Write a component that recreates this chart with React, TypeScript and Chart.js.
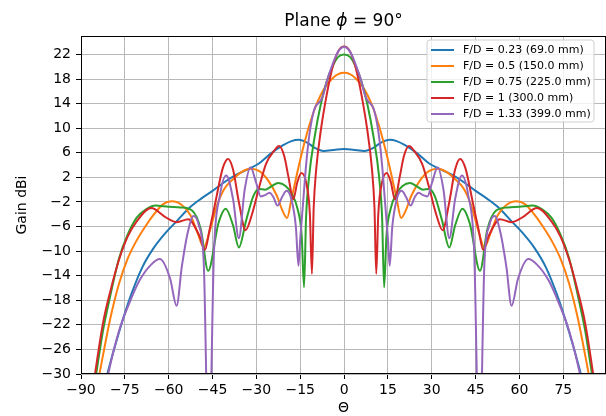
import React, { useEffect, useRef } from "react";
import { Chart, registerables } from "chart.js";

Chart.register(...registerables);

// ---------------- data ----------------
const seriesLabels = [
  "F/D = 0.23 (69.0 mm)",
  "F/D = 0.5 (150.0 mm)",
  "F/D = 0.75 (225.0 mm)",
  "F/D = 1 (300.0 mm)",
  "F/D = 1.33 (399.0 mm)",
];
const seriesColors = ["#1f77b4", "#ff7f0e", "#2ca02c", "#d62728", "#9467bd"];

const xTickValues = [-90, -75, -60, -45, -30, -15, 0, 15, 30, 45, 60, 75];
const yTickValues = [-30, -26, -22, -18, -14, -10, -6, -2, 2, 6, 10, 14, 18, 22];

// F/D = 0.23
const thetaBlue = [
  -85, -81, -77, -73, -69, -65, -61, -57, -53, -49, -45, -41, -37, -33, -29, -25, -21, -18, -15.5, -12.5, -10, -7, -3,
  0,
  3, 7, 10, 12.5, 15.5, 18, 21, 25, 29, 33, 37, 41, 45, 49, 53, 57, 61, 65, 69, 73, 77, 81, 85,
];
const gainBlue = [
  -38, -30, -23.2, -17.3, -12.6, -9.4, -7.0, -5.0, -3.0, -1.5, -0.2, 1.2, 2.4, 3.3, 4.3, 5.9, 7.2, 7.9, 8.1, 7.6, 6.8, 6.3, 6.5,
  6.6,
  6.5, 6.3, 6.8, 7.6, 8.1, 7.9, 7.2, 5.9, 4.3, 3.3, 2.4, 1.2, -0.2, -1.5, -3.0, -5.0, -7.0, -9.4, -12.6, -17.3, -23.2, -30, -38,
];

// F/D = 0.5
const thetaOrange = [
  -87, -83.7, -80, -77, -74, -71, -68, -65, -62, -59, -55.5, -52.5, -50, -48, -46, -43.5, -41, -38, -35, -32, -29, -26, -23, -21, -19.5, -18, -16, -14, -12, -10, -8, -6, -4, -2,
  0,
  2, 4, 6, 8, 10, 12, 14, 16, 18, 19.5, 21, 23, 26, 29, 32, 35, 38, 41, 43.5, 46, 48, 50, 52.5, 55.5, 59, 62, 65, 68, 71, 74, 77, 80, 83.7, 87,
];
const gainOrange = [
  -38, -30, -21.0, -15.3, -11.2, -8.3, -6.0, -4.0, -2.4, -1.9, -2.5, -4.2, -7.2, -9.4, -6.8, -2.6, 0.1, 1.7, 2.9, 3.4, 3.0, 1.5, -1.0, -3.5, -4.6, -1.5, 2.8, 6.8, 10.3, 13.2, 15.4, 17.0, 18.1, 18.8,
  19.0,
  18.8, 18.1, 17.0, 15.4, 13.2, 10.3, 6.8, 2.8, -1.5, -4.6, -3.5, -1.0, 1.5, 3.0, 3.4, 2.9, 1.7, 0.1, -2.6, -6.8, -9.4, -7.2, -4.2, -2.5, -1.9, -2.4, -4.0, -6.0, -8.3, -11.2, -15.3, -21.0, -30, -38,
];

// F/D = 0.75
const thetaGreen = [
  -87.5, -84.8, -82.5, -80, -77, -74, -71, -68, -64.5, -60, -56, -52, -49, -46.5, -43, -40.5, -38, -36, -33.5, -31, -29, -27, -25, -22.5, -20, -18, -16, -14.5, -13.7, -13, -12, -10, -8, -6, -4, -2,
  0,
  2, 4, 6, 8, 10, 12, 13, 13.7, 14.5, 16, 18, 20, 22.5, 25, 27, 29, 31, 33.5, 36, 38, 40.5, 43, 46.5, 49, 52, 56, 60, 64.5, 68, 71, 74, 77, 80, 82.5, 84.8, 87.5,
];
const gainGreen = [
  -38, -30, -23.0, -17.3, -11.2, -7.3, -4.6, -3.3, -2.6, -2.8, -2.9, -3.4, -6.5, -13.2, -5.5, -3.1, -5.8, -9.4, -5.0, -1.0, 0.1, 0.0, 0.5, 1.1, 0.6, -0.6, -3.0, -7.5, -15.9, -4.5, 2.0, 8.8, 13.8, 17.5, 20.0, 21.6,
  22.0,
  21.6, 20.0, 17.5, 13.8, 8.8, 2.0, -4.5, -15.9, -7.5, -3.0, -0.6, 0.6, 1.1, 0.5, 0.0, 0.1, -1.0, -5.0, -9.4, -5.8, -3.1, -5.5, -13.2, -6.5, -3.4, -2.9, -2.8, -2.6, -3.3, -4.6, -7.3, -11.2, -17.3, -23.0, -30, -38,
];

// F/D = 1
const thetaRed = [
  -87.5, -85.2, -82.5, -80, -77, -74, -71, -66, -61, -57.2, -53.3, -49.5, -47.6, -46, -44, -41.5, -39.7, -38, -36, -33.7, -31.5, -29, -26.7, -24, -22.2, -20.5, -19, -17.4, -16, -14.6, -13, -11.7, -11, -10.4, -9.5, -8, -6, -4, -2,
  0,
  2, 4, 6, 8, 9.5, 10.4, 11, 11.7, 13, 14.6, 16, 17.4, 19, 20.5, 22.2, 24, 26.7, 29, 31.5, 33.7, 36, 38, 39.7, 41.5, 44, 46, 47.6, 49.5, 53.3, 57.2, 61, 66, 71, 74, 77, 80, 82.5, 85.2, 87.5,
];
const gainRed = [
  -38, -30, -21.8, -16.6, -11.4, -7.6, -5.2, -3.0, -4.5, -5.3, -4.8, -7.5, -9.8, -6.5, -2.0, 3.5, 5.0, 3.3, -2.0, -6.6, -4.0, 0.5, 4.2, 6.3, 7.1, 5.5, 2.0, -1.6, 1.2, 2.7, 1.2, -4.0, -13.7, -3.0, 3.5, 9.5, 15.3, 19.8, 22.5,
  23.3,
  22.5, 19.8, 15.3, 9.5, 3.5, -3.0, -13.7, -4.0, 1.2, 2.7, 1.2, -1.6, 2.0, 5.5, 7.1, 6.3, 4.2, 0.5, -4.0, -6.6, -2.0, 3.3, 5.0, 3.5, -2.0, -6.5, -9.8, -7.5, -4.8, -5.3, -4.5, -3.0, -5.2, -7.6, -11.4, -16.6, -21.8, -30, -38,
];

// F/D = 1.33
const thetaPurple = [
  -84, -80.7, -77, -73.5, -70, -66, -63, -59.5, -57.3, -55.5, -53.5, -51.5, -49.7, -48, -46.3, -44.5, -42.5, -40.3, -38, -36, -34, -32, -30, -28.5, -27, -25.5, -24.2, -22.8, -21.2, -19.7, -18, -16.5, -15.6, -15, -14, -13, -12, -11, -10, -9, -8, -7, -6, -4, -2,
  0,
  2, 4, 6, 7, 8, 9, 10, 11, 12, 13, 14, 15, 15.6, 16.5, 18, 19.7, 21.2, 22.8, 24.2, 25.5, 27, 28.5, 30, 32, 34, 36, 38, 40.3, 42.5, 44.5, 46.3, 48, 49.7, 51.5, 53.5, 55.5, 57.3, 59.5, 63, 66, 70, 73.5, 77, 80.7, 84,
];
const gainPurple = [
  -38, -30, -23.0, -18.5, -14.8, -12.2, -11.3, -14.5, -18.9, -12.5, -7.0, -4.3, -5.8, -12.0, -45, -10.0, -1.0, 2.3, -1.5, -7.9, 0.0, 3.6, 1.0, -1.1, -0.9, -0.5, -1.2, -2.6, -1.2, -0.2, -1.6, -6.0, -12.4, -8.0, -2.0, 4.0, 8.5, 11.5, 13.3, 14.0, 14.5, 15.6, 17.5, 20.3, 22.5,
  23.2,
  22.5, 20.3, 17.5, 15.6, 14.5, 14.0, 13.3, 11.5, 8.5, 4.0, -2.0, -8.0, -12.4, -6.0, -1.6, -0.2, -1.2, -2.6, -1.2, -0.5, -0.9, -1.1, 1.0, 3.6, 0.0, -7.9, -1.5, 2.3, -1.0, -10.0, -45, -12.0, -5.8, -4.3, -7.0, -12.5, -18.9, -14.5, -11.3, -12.2, -14.8, -18.5, -23.0, -30, -38,
];

const seriesTheta = [thetaBlue, thetaOrange, thetaGreen, thetaRed, thetaPurple];
const seriesGain = [gainBlue, gainOrange, gainGreen, gainRed, gainPurple];

// ---------------- styling ----------------
const FONT = '"DejaVu Sans", "Liberation Sans", sans-serif';
const minusFmt = (v: number | string) => String(v).replace("-", "\u2212");

const decorPlugin = {
  id: "decor",
  afterDraw(chart: any) {
    const { ctx, chartArea } = chart;
    const { left, right, top, bottom } = chartArea;
    ctx.save();
    // frame (spines)
    ctx.strokeStyle = "#000";
    ctx.lineWidth = 1;
    ctx.strokeRect(left + 0.5, top + 0.5, right - left - 1, bottom - top - 1);

    // title with italic phi
    ctx.fillStyle = "#000";
    ctx.textBaseline = "alphabetic";
    const normal = `17px ${FONT}`;
    const italic = `italic 17px ${FONT}`;
    const p1 = "Plane ";
    const p2 = "\u03D5";
    const p3 = " = 90\u00B0";
    ctx.font = normal;
    const w1 = ctx.measureText(p1).width;
    const w3 = ctx.measureText(p3).width;
    ctx.font = italic;
    const w2 = ctx.measureText(p2).width;
    const total = w1 + w2 + w3;
    let x = (left + right) / 2 - total / 2;
    const by = 26;
    ctx.font = normal;
    ctx.fillText(p1, x, by);
    x += w1;
    ctx.font = italic;
    ctx.fillText(p2, x, by);
    x += w2;
    ctx.font = normal;
    ctx.fillText(p3, x, by);

    // axis titles
    ctx.font = `14px ${FONT}`;
    ctx.textAlign = "center";
    ctx.textBaseline = "middle";
    ctx.fillText("\u0398", (left + right) / 2, 408);
    ctx.save();
    ctx.translate(22, (top + bottom) / 2);
    ctx.rotate(-Math.PI / 2);
    ctx.fillText("Gain dBi", 0, 0);
    ctx.restore();

    // legend
    const bx = 427, byy = 40, bw = 167, bh = 82, r = 3;
    ctx.beginPath();
    ctx.moveTo(bx + r, byy);
    ctx.lineTo(bx + bw - r, byy);
    ctx.quadraticCurveTo(bx + bw, byy, bx + bw, byy + r);
    ctx.lineTo(bx + bw, byy + bh - r);
    ctx.quadraticCurveTo(bx + bw, byy + bh, bx + bw - r, byy + bh);
    ctx.lineTo(bx + r, byy + bh);
    ctx.quadraticCurveTo(bx, byy + bh, bx, byy + bh - r);
    ctx.lineTo(bx, byy + r);
    ctx.quadraticCurveTo(bx, byy, bx + r, byy);
    ctx.closePath();
    ctx.fillStyle = "rgba(255,255,255,0.8)";
    ctx.fill();
    ctx.strokeStyle = "#d0d0d0";
    ctx.lineWidth = 1;
    ctx.stroke();
    ctx.font = `11px ${FONT}`;
    ctx.textAlign = "left";
    ctx.textBaseline = "middle";
    seriesLabels.forEach((lab, i) => {
      const ry = 50 + i * 16;
      ctx.strokeStyle = seriesColors[i];
      ctx.lineWidth = 2;
      ctx.beginPath();
      ctx.moveTo(431, ry);
      ctx.lineTo(454, ry);
      ctx.stroke();
      ctx.fillStyle = "#000";
      ctx.fillText(lab, 463, ry + 0.5);
    });
    ctx.restore();
  },
};

export default function App() {
  const ref = useRef<HTMLCanvasElement>(null);
  useEffect(() => {
    const canvas = ref.current;
    if (!canvas) return;
    const datasets = seriesLabels.map((label, i) => ({
      label,
      data: seriesTheta[i].map((t, k) => ({ x: t, y: seriesGain[i][k] })),
      borderColor: seriesColors[i],
      backgroundColor: seriesColors[i],
      borderWidth: 2,
      pointRadius: 0,
      fill: false,
      cubicInterpolationMode: "monotone" as const,
      order: seriesLabels.length - i,
      clip: 0,
    }));
    const gridCommon = {
      color: "#b8b8b8",
      lineWidth: 1,
      drawTicks: true,
      tickLength: 5,
      tickColor: "#000",
      tickWidth: 1,
    };
    const chart = new Chart(canvas, {
      type: "line",
      data: { datasets },
      options: {
        responsive: false,
        animation: false,
        devicePixelRatio: 1,
        layout: { padding: { top: 36, right: 0, left: 0, bottom: 0 } },
        plugins: {
          legend: { display: false },
          tooltip: { enabled: false },
          title: { display: false },
        },
        scales: {
          x: {
            type: "linear",
            min: -90,
            max: 89.6,
            afterBuildTicks: (s: any) => {
              s.ticks = xTickValues.map((v) => ({ value: v }));
            },
            afterFit: (s: any) => {
              s.height = 42;
            },
            grid: gridCommon,
            border: { display: false },
            ticks: {
              color: "#000",
              font: { family: FONT, size: 14 },
              padding: 3,
              maxRotation: 0,
              autoSkip: false,
              callback: (v: any) => minusFmt(v),
            },
          },
          y: {
            type: "linear",
            min: -30,
            max: 25,
            afterBuildTicks: (s: any) => {
              s.ticks = yTickValues.map((v) => ({ value: v }));
            },
            afterFit: (s: any) => {
              s.width = 81;
            },
            grid: gridCommon,
            border: { display: false },
            ticks: {
              color: "#000",
              font: { family: FONT, size: 14 },
              padding: 5,
              autoSkip: false,
              callback: (v: any) => minusFmt(v),
            },
          },
        },
      } as any,
      plugins: [decorPlugin],
    });
    return () => chart.destroy();
  }, []);
  return (
    <div style={{ position: "absolute", left: 0, top: 0, width: 606, height: 416, background: "#fff" }}>
      <canvas ref={ref} width={606} height={416} style={{ display: "block" }} />
    </div>
  );
}
